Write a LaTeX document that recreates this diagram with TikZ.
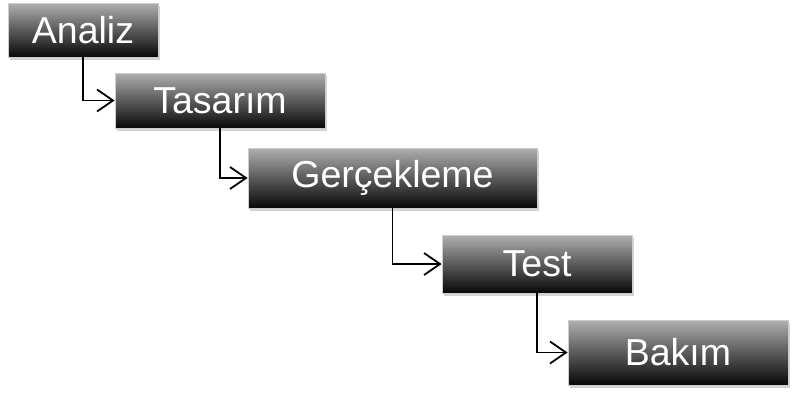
\documentclass[tikz,border=0pt]{standalone}
\usepackage{fontspec}
\setmainfont{Liberation Sans}
\usetikzlibrary{arrows.meta,shadows,shadings}
\begin{document}
\begin{tikzpicture}[x=1pt,y=-1pt,
  phase/.style={rectangle, inner sep=0pt, text=white,
    font=\fontsize{37.5}{42}\selectfont,
    top color={rgb,255:red,175;green,175;blue,175},
    bottom color={rgb,255:red,8;green,8;blue,8},
    middle color={rgb,255:red,90;green,90;blue,90},
    draw={rgb,255:red,205;green,205;blue,205}, line width=0.8pt,
    drop shadow={shadow xshift=2pt, shadow yshift=-3pt, opacity=0.35, fill=gray}},
  link/.style={draw=black, line width=1.8pt,
    -{Straight Barb[length=16pt,width=22pt,line width=1.8pt]}}]
\useasboundingbox (0,0) rectangle (792,392);
\node[phase, minimum width=150, minimum height=54] (analiz) at (83,30) {Analiz};
\node[phase, minimum width=210, minimum height=55] (tasarim) at (220,100.5) {Tasarım};
\node[phase, minimum width=289, minimum height=60] (gercek) at (392.5,178) {Gerçekleme};
\node[phase, minimum width=190, minimum height=58] (test) at (537,264) {Test};
\node[phase, minimum width=220, minimum height=65] (bakim) at (678,352.5) {Bakım};
\draw[link] (analiz.south) |- (tasarim.west);
\draw[link] (tasarim.south) |- (gercek.west);
\draw[link] (gercek.south) |- (test.west);
\draw[link] (test.south) |- (bakim.west);
\end{tikzpicture}
\end{document}
